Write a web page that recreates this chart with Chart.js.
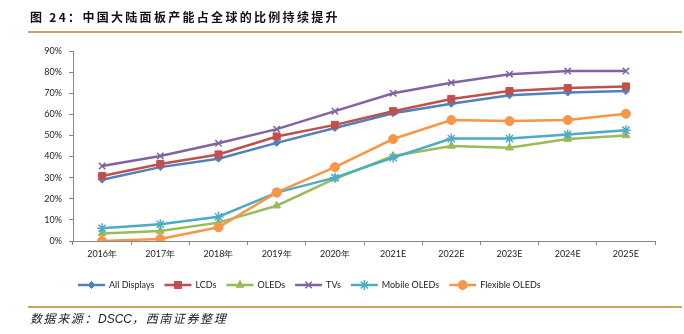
<!DOCTYPE html>
<html>
<head>
<meta charset="utf-8">
<script src="https://cdn.jsdelivr.net/npm/chart.js@4"></script>
<style>
  body { margin: 0; background: #fff; }
  #wrap { position: relative; width: 684px; height: 334px; overflow: hidden; }
  #chart { position: absolute; left: 0; top: 0; }
  .title {
    position: absolute; left: 30px; top: 9px;
    font: bold 12px "Noto Sans CJK SC", sans-serif;
    letter-spacing: 2.3px; color: #111; white-space: nowrap; line-height: 16px;
  }
  .rule { position: absolute; left: 28px; width: 654px; height: 2px; background: #c9a35f; }
  .source {
    position: absolute; left: 30px; top: 311px;
    font: italic 12px "Liberation Sans", "Noto Sans CJK SC", sans-serif;
    color: #222; white-space: nowrap; line-height: 16px;
  }
  .source .cjk { letter-spacing: 1.6px; }
</style>
</head>
<body>
<div id="wrap">
  <canvas id="chart" width="684" height="334"></canvas>
  <div class="title">图 24：中国大陆面板产能占全球的比例持续提升</div>
  <div class="rule" style="top:31px"></div>
  <div class="rule" style="top:306px"></div>
  <div class="source"><span class="cjk">数据来源：</span>DSCC<span class="cjk">，西南证券整理</span></div>
</div>
<script>
// 年份
const years = ['2016年', '2017年', '2018年', '2019年', '2020年', '2021E', '2022E', '2023E', '2024E', '2025E'];

// 中国大陆产能全球占比（%）
const allDisplays = [29, 35, 39, 46.5, 53.5, 60.5, 65, 69, 70.3, 71];
const lcds = [30.8, 36.5, 41, 49.5, 55, 61.5, 67.3, 71, 72.5, 73.2];
const oleds = [3.6, 4.7, 8.7, 16.7, 29.5, 40.3, 45, 44.2, 48.3, 50];
const tvs = [35.5, 40.3, 46.3, 53, 61.5, 70, 75, 79, 80.5, 80.5];
const mobileOleds = [6, 7.9, 11.5, 22.9, 30, 39.5, 48.5, 48.5, 50.5, 52.5];
const flexibleOleds = [0, 1, 6.5, 23, 35, 48.3, 57.3, 56.8, 57.3, 60.3];

const seriesNames = ['All Displays', 'LCDs', 'OLEDs', 'TVs', 'Mobile OLEDs', 'Flexible OLEDs'];
const yTicks = [0, 10, 20, 30, 40, 50, 60, 70, 80, 90];

const FONT = 'Lato';
const axisColor = '#878787';

// 系列样式
function series(label, data, color, pointStyle, radius, order) {
    const cross = pointStyle === 'crossRot' || pointStyle === 'star';
    return {
        label: label,
        data: data,
        borderColor: color,
        backgroundColor: color,
        borderWidth: 2.5,
        pointStyle: pointStyle,
        pointRadius: radius,
        pointHoverRadius: radius,
        pointBackgroundColor: color,
        pointBorderColor: color,
        pointBorderWidth: cross ? 1.5 : 1,
        tension: 0,
        order: order
    };
}

// 图例：线段 + 标记
const legendRow = {
    id: 'legendRow',
    afterDraw(chart) {
        const ctx = chart.ctx;
        const y = 285;
        let x = 78;
        ctx.save();
        ctx.font = '9px ' + FONT;
        ctx.textBaseline = 'middle';
        chart.data.datasets.forEach(ds => {
            ctx.strokeStyle = ds.borderColor;
            ctx.lineWidth = ds.borderWidth;
            ctx.beginPath();
            ctx.moveTo(x, y);
            ctx.lineTo(x + 27, y);
            ctx.stroke();
            ctx.fillStyle = ds.pointBackgroundColor;
            ctx.strokeStyle = ds.pointBorderColor;
            ctx.lineWidth = ds.pointBorderWidth;
            Chart.helpers.drawPoint(ctx, {
                pointStyle: ds.pointStyle,
                radius: ds.pointRadius,
                rotation: 0,
                borderWidth: ds.pointBorderWidth
            }, x + 13.5, y);
            ctx.fillStyle = '#222';
            ctx.fillText(ds.label, x + 31, y);
            x += 31 + ctx.measureText(ds.label).width + 10;
        });
        ctx.restore();
    }
};

const chart = new Chart(document.getElementById('chart'), {
    type: 'line',
    data: {
        labels: years,
        datasets: [
            series(seriesNames[0], allDisplays, '#4f81bd', 'rectRot', 3.5, 5),
            series(seriesNames[1], lcds, '#c0504d', 'rect', 5, 4),
            series(seriesNames[2], oleds, '#9bbb59', 'triangle', 4.5, 3),
            series(seriesNames[3], tvs, '#8064a2', 'crossRot', 4.5, 2),
            series(seriesNames[4], mobileOleds, '#4bacc6', 'star', 5, 1),
            series(seriesNames[5], flexibleOleds, '#f79646', 'circle', 4.5, 0)
        ]
    },
    options: {
        responsive: false,
        animation: false,
        layout: {
            padding: { left: 0, right: 29, top: 51, bottom: 63 }
        },
        plugins: {
            legend: { display: false },
            tooltip: { enabled: false }
        },
        scales: {
            x: {
                offset: true,
                grid: {
                    offset: true,
                    drawOnChartArea: false,
                    tickLength: 4,
                    color: axisColor
                },
                border: { color: axisColor, width: 1 },
                ticks: {
                    color: '#222',
                    padding: 4,
                    maxRotation: 0,
                    autoSkip: false,
                    font: { family: FONT, size: 9 }
                },
                afterFit(scale) { scale.height = 30; }
            },
            y: {
                min: 0,
                max: 90,
                afterBuildTicks(scale) {
                    scale.ticks = yTicks.map(v => ({ value: v }));
                },
                grid: {
                    drawOnChartArea: false,
                    tickLength: 4,
                    color: axisColor
                },
                border: { color: axisColor, width: 1 },
                ticks: {
                    color: '#222',
                    padding: 7,
                    font: { family: FONT, size: 9 },
                    callback: v => v + '%'
                },
                afterFit(scale) { scale.width = 73; }
            }
        }
    },
    plugins: [legendRow]
});
</script>
</body>
</html>
